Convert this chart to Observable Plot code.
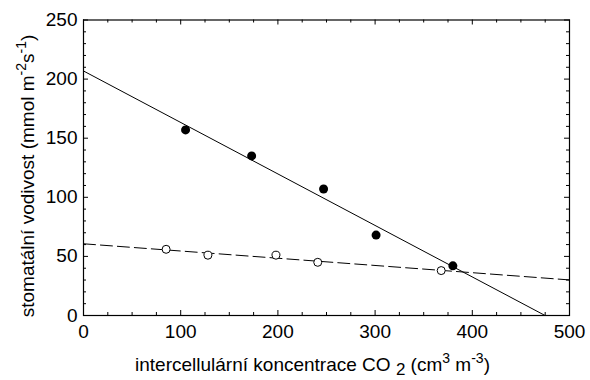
<!DOCTYPE html>
<html><head><meta charset="utf-8">
<script src="https://cdn.jsdelivr.net/npm/d3@7"></script>
<script src="https://cdn.jsdelivr.net/npm/@observablehq/plot@0.6"></script>
<style>body{margin:0;background:#fff} svg{font-family:"Liberation Sans",Arial,sans-serif}</style>
</head><body><div id="chart"></div>
<script>
const ciFilled = [105, 173, 247, 301, 380];
const gsFilled = [157, 135, 107, 68, 42];
const ciOpen = [85, 128, 198, 241, 368];
const gsOpen = [56, 51, 51, 45, 38];
const xTicks = [0, 100, 200, 300, 400, 500];
const yTicks = [0, 50, 100, 150, 200, 250];
const xTitle = ["intercellulární koncentrace CO", "2", "(cm", "3", "m", "-3", ")"];
const yTitle = ["stomatální vodivost (mmol m", "-2", "s", "-1", ")"];

const W = 590, H = 380, mt = 19.5, mb = 65, ml = 83, mr = 21;
const innerH = H - mt - mb, innerW = W - ml - mr;

function fit(xs, ys) {
  const mx = d3.mean(xs), my = d3.mean(ys);
  const sxy = d3.sum(xs, (x, i) => (x - mx) * (ys[i] - my));
  const sxx = d3.sum(xs, x => (x - mx) ** 2);
  const b = sxy / sxx, a = my - b * mx;
  return [0, 500].map(x => ({x, y: a + b * x}));
}
const filled = ciFilled.map((x, i) => ({x, y: gsFilled[i]}));
const open = ciOpen.map((x, i) => ({x, y: gsOpen[i]}));
const lineF = fit(ciFilled, gsFilled);
const lineO = fit(ciOpen, gsOpen);

const xMinor = d3.range(0, 501, 25).filter(v => v % 100 !== 0);
const yMinor = d3.range(0, 251, 10).filter(v => v % 50 !== 0);

const chart = Plot.plot({
  width: W, height: H,
  marginTop: mt, marginBottom: mb, marginLeft: ml, marginRight: mr,
  x: {domain: [0, 500], axis: null},
  y: {domain: [0, 250], axis: null},
  style: {fontFamily: '"Liberation Sans", Arial, sans-serif', background: "#fff"},
  marks: [
    Plot.line(lineF, {x: "x", y: "y", stroke: "black", strokeWidth: 1, clip: true}),
    Plot.line(lineO, {x: "x", y: "y", stroke: "black", strokeWidth: 1, strokeDasharray: "12,5", clip: true}),
    Plot.dot(filled, {x: "x", y: "y", r: 4.5, fill: "black", stroke: "none"}),
    Plot.dot(open, {x: "x", y: "y", r: 4, fill: "white", stroke: "black", strokeWidth: 1}),
    Plot.tickX(xTicks, {x: d => d, insetTop: innerH - 5, stroke: "black"}),
    Plot.tickX(xTicks, {x: d => d, insetBottom: innerH - 5, stroke: "black"}),
    Plot.tickX(xMinor, {x: d => d, insetTop: innerH - 3, stroke: "black"}),
    Plot.tickX(xMinor, {x: d => d, insetBottom: innerH - 3, stroke: "black"}),
    Plot.tickY(yTicks, {y: d => d, insetRight: innerW - 5, stroke: "black"}),
    Plot.tickY(yTicks, {y: d => d, insetLeft: innerW - 5, stroke: "black"}),
    Plot.tickY(yMinor, {y: d => d, insetRight: innerW - 3, stroke: "black"}),
    Plot.tickY(yMinor, {y: d => d, insetLeft: innerW - 3, stroke: "black"}),
    Plot.frame({stroke: "black", strokeWidth: 1.2}),
    Plot.text(xTicks, {x: d => d, frameAnchor: "bottom", lineAnchor: "top", dy: 9, fontSize: 19, fill: "black", text: d => String(d)}),
    Plot.text(yTicks, {y: d => d, frameAnchor: "left", textAnchor: "end", dx: -6, fontSize: 19, fill: "black", text: d => String(d)})
  ]
});
document.getElementById("chart").append(chart);

const svg = d3.select(chart);
const fs = 19, ss = 14;
const xt = svg.append("text").attr("x", 312.5).attr("y", 371).attr("text-anchor", "middle")
  .attr("font-size", fs).attr("fill", "black");
xt.append("tspan").text(xTitle[0] + " ");
xt.append("tspan").attr("dy", 4).attr("font-size", 17).text(xTitle[1]);
xt.append("tspan").attr("dy", -4).text(" " + xTitle[2]);
xt.append("tspan").attr("dy", -8).attr("font-size", ss).text(xTitle[3]);
xt.append("tspan").attr("dy", 8).text(" " + xTitle[4]);
xt.append("tspan").attr("dy", -8).attr("font-size", ss).text(xTitle[5]);
xt.append("tspan").attr("dy", 8).text(xTitle[6]);
const yt = svg.append("text").attr("transform", "translate(34,176) rotate(-90)").attr("text-anchor", "middle")
  .attr("font-size", fs).attr("fill", "black");
yt.append("tspan").text(yTitle[0]);
yt.append("tspan").attr("dy", -8).attr("font-size", ss).text(yTitle[1]);
yt.append("tspan").attr("dy", 8).text(yTitle[2]);
yt.append("tspan").attr("dy", -8).attr("font-size", ss).text(yTitle[3]);
yt.append("tspan").attr("dy", 8).text(yTitle[4]);
</script></body></html>
